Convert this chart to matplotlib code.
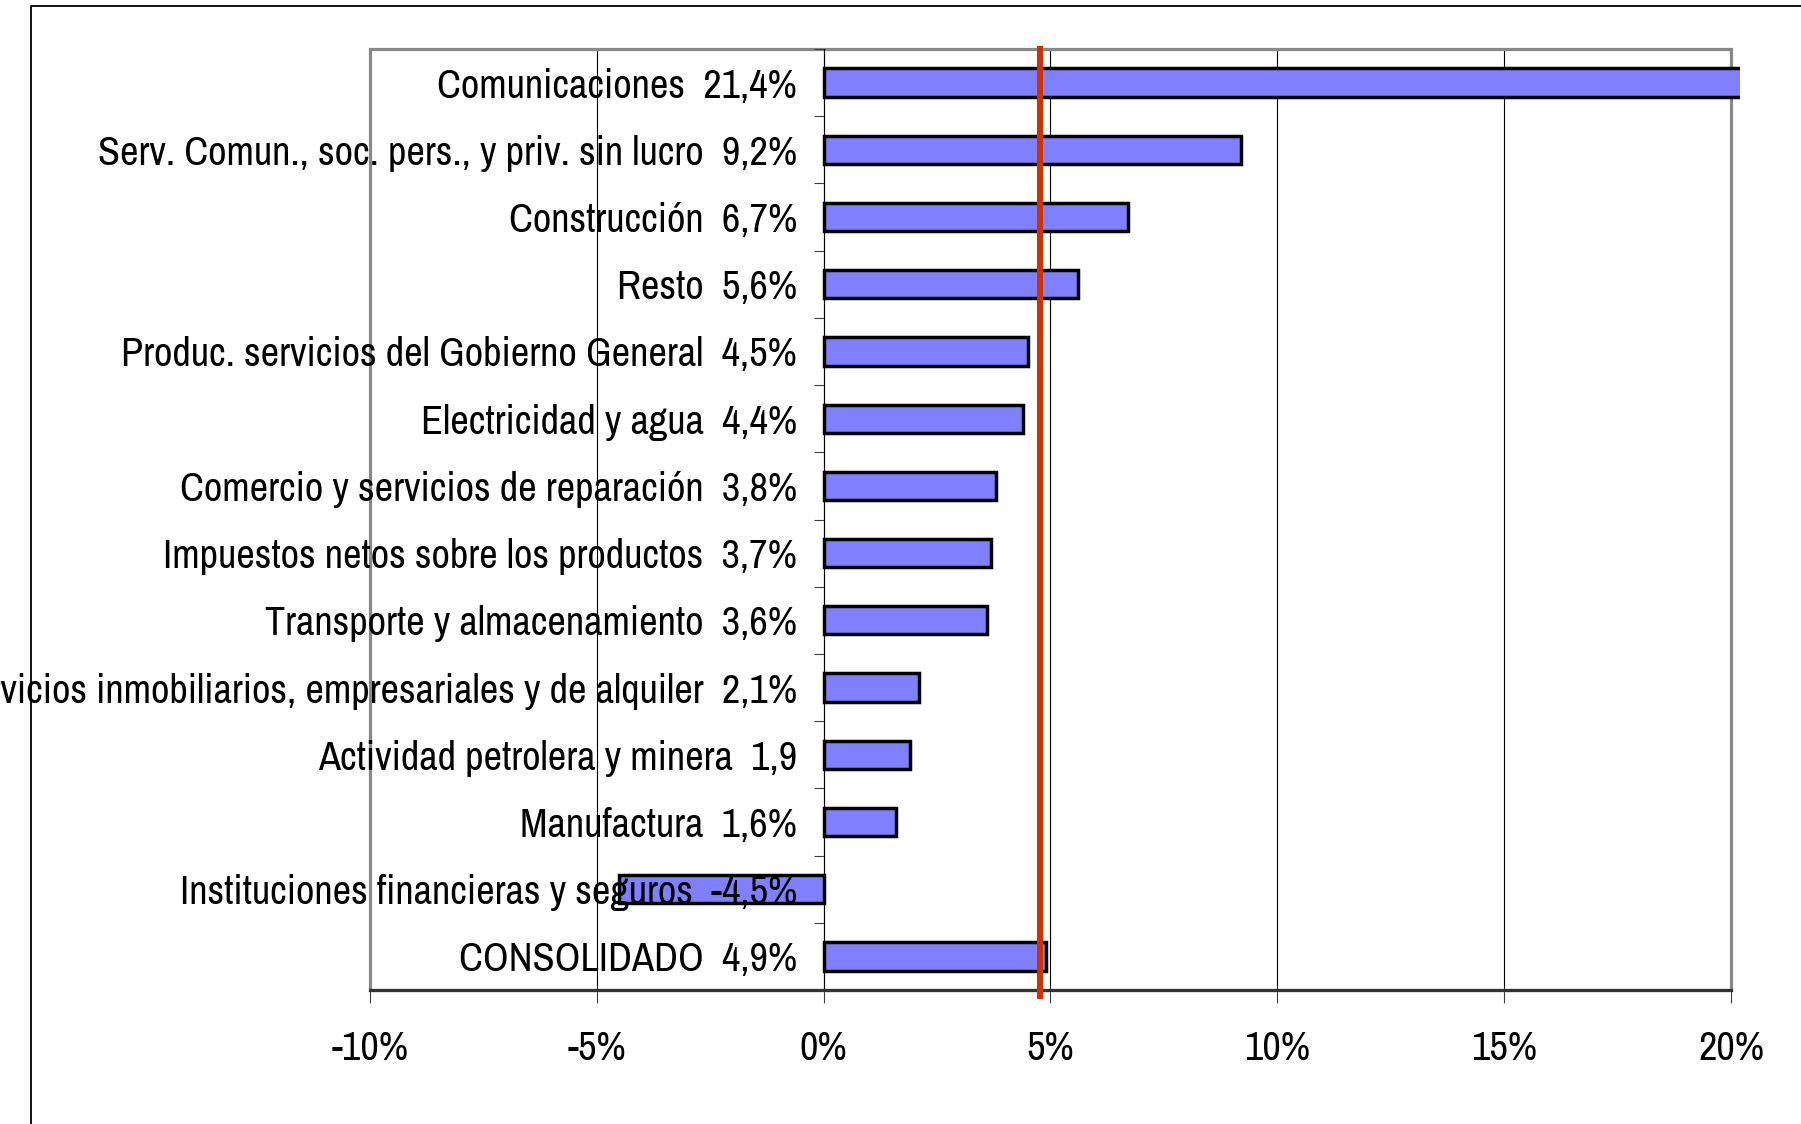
import numpy as np
import matplotlib
matplotlib.use('Agg')
import matplotlib.pyplot as plt
from matplotlib.patches import Rectangle
from matplotlib.lines import Line2D
from matplotlib.transforms import Bbox, TransformedBbox

plt.rcParams['font.family'] = ['Archivo Narrow', 'DejaVu Sans']

labels = [
    'Comunicaciones  21,4%',
    'Serv. Comun., soc. pers., y priv. sin lucro  9,2%',
    'Construcción  6,7%',
    'Resto  5,6%',
    'Produc. servicios del Gobierno General  4,5%',
    'Electricidad y agua  4,4%',
    'Comercio y servicios de reparación  3,8%',
    'Impuestos netos sobre los productos  3,7%',
    'Transporte y almacenamiento  3,6%',
    'Servicios inmobiliarios, empresariales y de alquiler  2,1%',
    'Actividad petrolera y minera  1,9',
    'Manufactura  1,6%',
    'Instituciones financieras y seguros  -4,5%',
    'CONSOLIDADO  4,9%',
]
values = [21.4, 9.2, 6.7, 5.6, 4.5, 4.4, 3.8, 3.7, 3.6, 2.1, 1.9, 1.6, -4.5, 4.9]
ref_line = 4.76
xticks = [-10, -5, 0, 5, 10, 15, 20]

fig = plt.figure(figsize=(18.01, 11.24), dpi=100)
ax = fig.add_axes([0.2054, 0.1192, 0.9611 - 0.2054, 0.9564 - 0.1192])

y = np.arange(len(values))
bars = ax.barh(y, values, height=0.42, color='#8080FF', edgecolor='black',
               linewidth=2.5, zorder=1.2)
clip = TransformedBbox(Bbox([[-0.01, -0.05], [1.007, 1.05]]), ax.transAxes)
for b in bars:
    b.set_clip_box(clip)

ax.set_xlim(-10, 20)
ax.set_ylim(len(values) - 0.5, -0.5)

# gridlines behind bars
for xt in xticks:
    ax.axvline(xt, color='black', lw=0.8, zorder=0.5)

# reference line
ax.plot([ref_line, ref_line], [-0.55, len(values) - 0.37], color='#CC3300',
        lw=4.3, zorder=3, clip_on=False, solid_capstyle='butt')

ax.set_xticks(xticks)
ax.set_xticklabels([f'{t}%' for t in xticks], fontsize=29)
ax.tick_params(axis='x', length=9, width=0.8, color='#404040', pad=20)

ax.spines['left'].set_position(('data', 0))
ax.spines['left'].set_color('black')
ax.spines['left'].set_linewidth(0.8)
ax.spines['top'].set_visible(False)
ax.spines['right'].set_visible(False)
ax.spines['bottom'].set_color('#333333')
ax.spines['bottom'].set_linewidth(2.3)

ax.set_yticks(y)
ax.set_yticklabels(labels, fontsize=29)
ax.tick_params(axis='y', which='major', length=0, pad=19)
ax.set_yticks(np.arange(-0.5, len(values), 1), minor=True)
ax.tick_params(axis='y', which='minor', length=7, width=0.8, color='#404040',
               direction='out')

frame = Rectangle((0, 0), 1, 1, transform=ax.transAxes, fill=False,
                  edgecolor='#888888', lw=2.3, zorder=0.6, clip_on=False)
ax.add_patch(frame)

# outer chart border
bx = 31 / 1801
by = 1 - 6 / 1124
fig.add_artist(Line2D([bx, bx, 1.0], [0.0, by, by], transform=fig.transFigure,
                      color='black', lw=1.3))

fig.savefig('out.png', dpi=100)
